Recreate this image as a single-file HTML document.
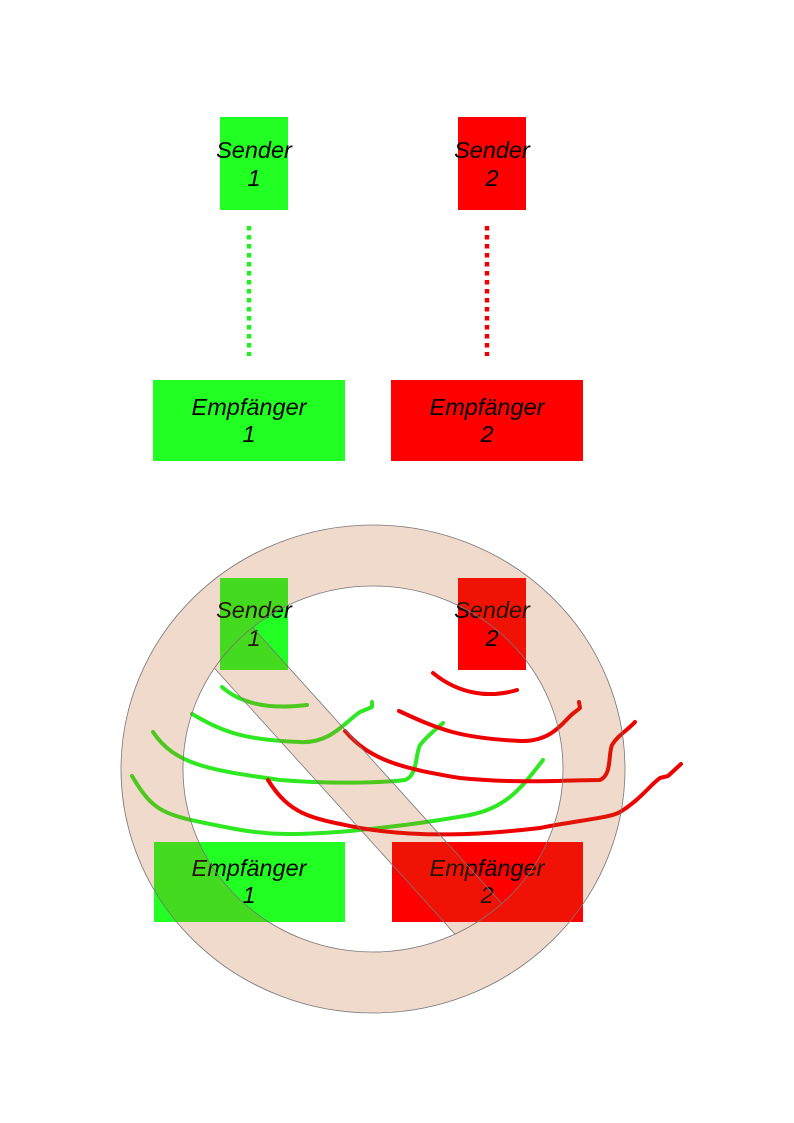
<!DOCTYPE html>
<html><head><meta charset="utf-8"><style>
html,body{margin:0;padding:0;background:#fff}
svg{display:block}
text{font-family:"Liberation Sans",sans-serif;font-style:italic;font-size:23.5px;fill:#000;text-anchor:middle}
</style></head><body>
<svg width="794" height="1123" viewBox="0 0 794 1123" xmlns="http://www.w3.org/2000/svg">
<defs>
<clipPath id="inner"><ellipse cx="373" cy="769" rx="190" ry="183"/></clipPath>
</defs>
<rect x="220" y="117" width="68" height="93" fill="#22ff22"/>
<rect x="458" y="117" width="68" height="93" fill="#ff0000"/>
<rect x="153" y="380" width="192" height="81" fill="#22ff22"/>
<rect x="391" y="380" width="192" height="81" fill="#ff0000"/>
<text x="254" y="158">Sender</text><text x="254" y="186">1</text>
<text x="492" y="158">Sender</text><text x="492" y="186">2</text>
<text x="249" y="415">Empfänger</text><text x="249" y="442">1</text>
<text x="487" y="415">Empfänger</text><text x="487" y="442">2</text>
<line x1="249" y1="226" x2="249" y2="356" stroke="#22ee22" stroke-width="4.5" stroke-dasharray="4.5,4.5"/>
<line x1="487" y1="226" x2="487" y2="356" stroke="#ee0000" stroke-width="4.5" stroke-dasharray="4.5,4.5"/>
<rect x="220" y="578" width="68" height="92" fill="#22ff22"/>
<rect x="458" y="578" width="68" height="92" fill="#ff0000"/>
<rect x="154" y="842" width="191" height="80" fill="#22ff22"/>
<rect x="392" y="842" width="191" height="80" fill="#ff0000"/>
<text x="254" y="618">Sender</text><text x="254" y="646">1</text>
<text x="492" y="618">Sender</text><text x="492" y="646">2</text>
<text x="249" y="876">Empfänger</text><text x="249" y="903">1</text>
<text x="487" y="876">Empfänger</text><text x="487" y="903">2</text>
<g fill="none" stroke-width="4" stroke-linecap="round" stroke-linejoin="round">
<g stroke="#2ee822">
<path d="M222,687 Q250,712 307,705"/>
<path d="M192,714 C220,730 240,740 300,742 C330,744 345,722 360,712 L372,707 L372,702"/>
<path d="M153,732 C175,765 210,770 280,780 C330,784 380,783 405,780 C418,775 415,755 420,745 C428,735 435,730 443,723"/>
<path d="M132,776 C155,815 165,815 230,828 C270,836 300,835 350,831 C400,826 430,822 470,815 C505,808 520,790 543,760"/>
</g>
<g stroke="#ee0000">
<path d="M433,673 C460,695 490,698 517,690"/>
<path d="M399,711 C440,730 460,738 520,741 C555,742 565,718 575,712 L580,708 L579,702"/>
<path d="M345,731 C370,760 400,768 460,778 C520,784 570,780 600,780 C612,775 608,755 612,745 C618,735 628,730 635,722"/>
<path d="M268,780 C290,815 310,818 360,828 C420,838 480,835 540,828 C580,820 610,818 620,812 C640,800 650,785 660,778 L668,776 L681,764"/>
</g>
</g>
<path fill-rule="evenodd" fill="rgb(187,87,23)" fill-opacity="0.22" stroke="#777" stroke-width="0.8"
 d="M121,769 a252,244 0 1,0 504,0 a252,244 0 1,0 -504,0 Z M183,769 a190,183 0 1,0 380,0 a190,183 0 1,0 -380,0 Z"/>
<g clip-path="url(#inner)">
<polygon points="150,597 520,1006 560,968 190,558" fill="rgb(187,87,23)" fill-opacity="0.22" stroke="#777" stroke-width="0.8"/>
</g>
</svg>
</body></html>
